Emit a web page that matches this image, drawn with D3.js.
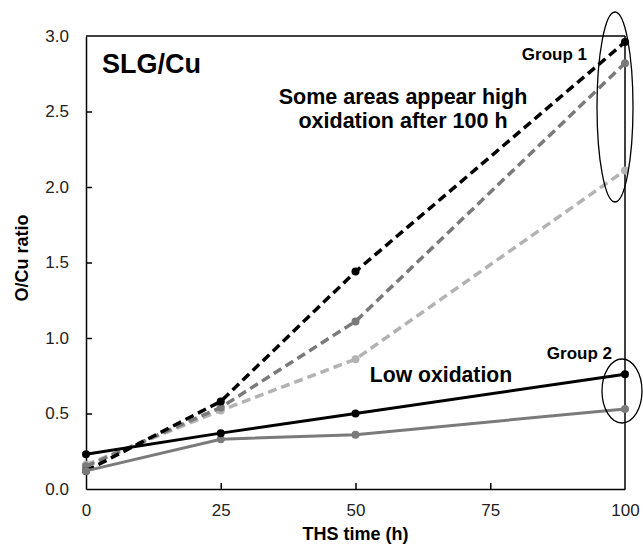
<!DOCTYPE html>
<html>
<head>
<meta charset="utf-8">
<script src="https://cdn.jsdelivr.net/npm/d3@7"></script>
<style>
  body { margin: 0; background: #fff; }
  text { font-family: Arial, "Liberation Sans", sans-serif; }
</style>
</head>
<body>
<div id="chart"></div>
<script>
const times = [0, 25, 50, 100]
const xTicks = [0, 25, 50, 75, 100]
const yTicks = [0, 0.5, 1.0, 1.5, 2.0, 2.5, 3.0]

// group 1 (dashed)
const g1Black = [0.12, 0.58, 1.44, 2.96]
const g1Dark = [0.15, 0.54, 1.11, 2.82]
const g1Light = [0.16, 0.52, 0.86, 2.11]
// group 2 (solid)
const g2Black = [0.23, 0.37, 0.50, 0.76]
const g2Gray = [0.12, 0.33, 0.36, 0.53]

const series = [
  {vals: g1Light, color: "#b3b3b3", dash: "9,5"},
  {vals: g1Dark, color: "#7a7a7a", dash: "9,5"},
  {vals: g1Black, color: "#000", dash: "9,5"},
  {vals: g2Gray, color: "#7a7a7a", dash: null},
  {vals: g2Black, color: "#000", dash: null}
]

const width = 643, height = 545
const margin = {left: 86, right: 18, top: 36, bottom: 56}

const svg = d3.select("#chart").append("svg")
  .attr("width", width).attr("height", height)

const x = d3.scaleLinear().domain([0, 100]).range([margin.left, width - margin.right])
const y = d3.scaleLinear().domain([0, 3]).range([height - margin.bottom, margin.top])

// frame: top and right lines
svg.append("line").attr("x1", x(0)).attr("x2", x(100)).attr("y1", y(3)).attr("y2", y(3))
  .attr("stroke", "#000").attr("stroke-width", 1.5)
svg.append("line").attr("x1", x(100)).attr("x2", x(100)).attr("y1", y(3)).attr("y2", y(0))
  .attr("stroke", "#000").attr("stroke-width", 1.5)

const xAxis = svg.append("g").attr("transform", `translate(0,${y(0)})`)
  .call(d3.axisBottom(x).tickValues(xTicks).tickSizeInner(-6).tickSizeOuter(0).tickPadding(15).tickFormat(d3.format("d")))
const yAxis = svg.append("g").attr("transform", `translate(${x(0)},0)`)
  .call(d3.axisLeft(y).tickValues(yTicks).tickSizeInner(-6).tickSizeOuter(0).tickPadding(17).tickFormat(d3.format(".1f")))

;[xAxis, yAxis].forEach(a => {
  a.selectAll("path, line").attr("stroke", "#000").attr("stroke-width", 1.5)
  a.selectAll("text").attr("font-size", 17).attr("fill", "#222")
})
xAxis.selectAll(".tick line").filter(d => d === 0 || d === 100).remove()
yAxis.selectAll(".tick line").filter(d => d === 0 || d === 3).remove()

const line = d3.line().x((d, i) => x(times[i])).y(d => y(d))

series.forEach(s => {
  svg.append("path").datum(s.vals)
    .attr("d", line)
    .attr("fill", "none")
    .attr("stroke", s.color)
    .attr("stroke-width", s.dash ? 3.5 : 3)
    .attr("stroke-dasharray", s.dash)
  svg.append("g").selectAll("circle").data(s.vals).join("circle")
    .attr("cx", (d, i) => x(times[i]))
    .attr("cy", d => y(d))
    .attr("r", 4)
    .attr("fill", s.color)
})

// group ellipses
svg.append("ellipse").attr("cx", 615).attr("cy", 107).attr("rx", 18).attr("ry", 95)
  .attr("fill", "none").attr("stroke", "#000").attr("stroke-width", 1.3)
svg.append("ellipse").attr("cx", 622).attr("cy", 391).attr("rx", 20).attr("ry", 32)
  .attr("fill", "none").attr("stroke", "#000").attr("stroke-width", 1.3)

// labels
svg.append("text").attr("x", 102).attr("y", 73).attr("font-size", 27).attr("font-weight", "bold").text("SLG/Cu")
svg.append("text").attr("x", 587).attr("y", 60).attr("text-anchor", "end").attr("font-size", 17).attr("font-weight", "bold").text("Group 1")
svg.append("text").attr("x", 612).attr("y", 359).attr("text-anchor", "end").attr("font-size", 17).attr("font-weight", "bold").text("Group 2")
svg.append("text").attr("x", 403).attr("y", 104).attr("text-anchor", "middle").attr("font-size", 21.5).attr("font-weight", "bold").text("Some areas appear high")
svg.append("text").attr("x", 403).attr("y", 128).attr("text-anchor", "middle").attr("font-size", 21.5).attr("font-weight", "bold").text("oxidation after 100 h")
svg.append("text").attr("x", 441).attr("y", 382).attr("text-anchor", "middle").attr("font-size", 21.2).attr("font-weight", "bold").text("Low oxidation")

svg.append("text").attr("x", (x(0) + x(100)) / 2).attr("y", 540).attr("text-anchor", "middle")
  .attr("font-size", 18).attr("font-weight", "bold").text("THS time (h)")
svg.append("text").attr("transform", `translate(28,258) rotate(-90)`).attr("text-anchor", "middle")
  .attr("font-size", 18).attr("font-weight", "bold").text("O/Cu ratio")
</script>
</body>
</html>
